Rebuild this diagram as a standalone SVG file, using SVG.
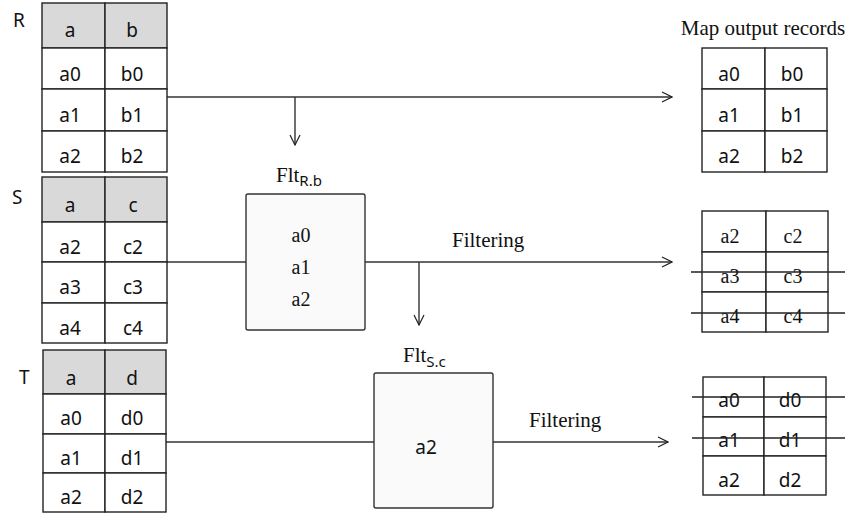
<svg xmlns="http://www.w3.org/2000/svg" width="848" height="513" viewBox="0 0 848 513">
<style>
.cell{fill:#fff;stroke:#222;stroke-width:1.4}
.hdr{fill:#d9d9d9;stroke:#222;stroke-width:1.4}
.box{fill:#fafafa;stroke:#333;stroke-width:1.4}
.ln{stroke:#333;stroke-width:1.4;fill:none}
.st{stroke:#222;stroke-width:1.3}
.s{font-family:"Noto Sans","DejaVu Sans",sans-serif;font-size:19px;fill:#111;text-anchor:middle}
.sr{font-family:"Liberation Serif","Times New Roman",serif;font-size:20px;fill:#111;text-anchor:middle}
.big{font-family:"Liberation Serif","Times New Roman",serif;font-size:21px;fill:#111}
.lbl{font-family:"Noto Sans","DejaVu Sans",sans-serif;font-size:19px;fill:#111}
.sub{font-family:"Noto Sans","DejaVu Sans",sans-serif;font-size:15px}
</style>
<defs>
<marker id="arr" viewBox="0 0 12 12" refX="11" refY="6" markerWidth="12" markerHeight="12" markerUnits="userSpaceOnUse" orient="auto">
<path d="M1,1 L11,6 L1,11" fill="none" stroke="#222" stroke-width="1.2"/>
</marker>
</defs>

<g id="connectors">
<line class="ln" x1="167" y1="97" x2="672" y2="97" marker-end="url(#arr)"/>
<line class="ln" x1="295" y1="97" x2="295" y2="145" marker-end="url(#arr)"/>
<line class="ln" x1="167" y1="262" x2="246" y2="262"/>
<line class="ln" x1="365" y1="262" x2="672" y2="262" marker-end="url(#arr)"/>
<line class="ln" x1="419" y1="262" x2="419" y2="325" marker-end="url(#arr)"/>
<line class="ln" x1="166" y1="442" x2="374" y2="442"/>
<line class="ln" x1="493" y1="442" x2="668" y2="442" marker-end="url(#arr)"/>
<text class="big" x="452" y="247">Filtering</text>
<text class="big" x="529" y="427">Filtering</text>
</g>

<g id="R">
<text class="lbl" x="13" y="27">R</text>
<rect class="hdr" x="42" y="3" width="63" height="45"/>
<rect class="hdr" x="105" y="3" width="62" height="45"/>
<rect class="cell" x="42" y="48" width="63" height="41"/><rect class="cell" x="105" y="48" width="62" height="41"/>
<rect class="cell" x="42" y="89" width="63" height="42"/><rect class="cell" x="105" y="89" width="62" height="42"/>
<rect class="cell" x="42" y="131" width="63" height="41"/><rect class="cell" x="105" y="131" width="62" height="41"/>
<text class="s" x="70" y="37">a</text><text class="s" x="132" y="37">b</text>
<text class="s" x="70" y="81">a0</text><text class="s" x="132" y="81">b0</text>
<text class="s" x="70" y="122">a1</text><text class="s" x="132" y="122">b1</text>
<text class="s" x="70" y="163">a2</text><text class="s" x="132" y="163">b2</text>
</g>

<g id="S">
<text class="lbl" x="12" y="204">S</text>
<rect class="hdr" x="42" y="177" width="63" height="45"/>
<rect class="hdr" x="105" y="177" width="62" height="45"/>
<rect class="cell" x="42" y="222" width="63" height="40"/><rect class="cell" x="105" y="222" width="62" height="40"/>
<rect class="cell" x="42" y="262" width="63" height="41"/><rect class="cell" x="105" y="262" width="62" height="41"/>
<rect class="cell" x="42" y="303" width="63" height="40"/><rect class="cell" x="105" y="303" width="62" height="40"/>
<text class="s" x="70" y="212">a</text><text class="s" x="133" y="212">c</text>
<text class="s" x="70" y="254">a2</text><text class="s" x="133" y="254">c2</text>
<text class="s" x="70" y="294">a3</text><text class="s" x="133" y="294">c3</text>
<text class="s" x="70" y="335">a4</text><text class="s" x="133" y="335">c4</text>
</g>

<g id="T">
<text class="lbl" x="19" y="384">T</text>
<rect class="hdr" x="43" y="350" width="62" height="44"/>
<rect class="hdr" x="105" y="350" width="61" height="44"/>
<rect class="cell" x="43" y="394" width="62" height="40"/><rect class="cell" x="105" y="394" width="61" height="40"/>
<rect class="cell" x="43" y="434" width="62" height="39"/><rect class="cell" x="105" y="434" width="61" height="39"/>
<rect class="cell" x="43" y="473" width="62" height="39"/><rect class="cell" x="105" y="473" width="61" height="39"/>
<text class="s" x="71" y="385">a</text><text class="s" x="132" y="385">d</text>
<text class="s" x="71" y="425">a0</text><text class="s" x="132" y="425">d0</text>
<text class="s" x="71" y="465">a1</text><text class="s" x="132" y="465">d1</text>
<text class="s" x="71" y="504">a2</text><text class="s" x="132" y="504">d2</text>
</g>

<g id="FltRb">
<text class="big" x="276" y="182">Flt<tspan class="sub" dy="4">R.b</tspan></text>
<rect class="box" x="246" y="194" width="119" height="136" rx="2"/>
<text class="sr" x="301" y="242">a0</text>
<text class="sr" x="301" y="274">a1</text>
<text class="sr" x="301" y="306">a2</text>
</g>

<g id="FltSc">
<text class="big" x="403" y="362">Flt<tspan class="sub" dy="5">S.c</tspan></text>
<rect class="box" x="374" y="373" width="119" height="135" rx="2"/>
<text class="s" x="426" y="454">a2</text>
</g>

<g id="Out1">
<text class="big" x="763" y="35" text-anchor="middle">Map output records</text>
<rect class="cell" x="702" y="48" width="63" height="41"/><rect class="cell" x="765" y="48" width="62" height="41"/>
<rect class="cell" x="702" y="89" width="63" height="42"/><rect class="cell" x="765" y="89" width="62" height="42"/>
<rect class="cell" x="702" y="131" width="63" height="41"/><rect class="cell" x="765" y="131" width="62" height="41"/>
<text class="s" x="729" y="81">a0</text><text class="s" x="792" y="81">b0</text>
<text class="s" x="729" y="122">a1</text><text class="s" x="792" y="122">b1</text>
<text class="s" x="729" y="163">a2</text><text class="s" x="792" y="163">b2</text>
</g>

<g id="Out2">
<rect class="cell" x="702" y="211" width="64" height="41"/><rect class="cell" x="766" y="211" width="62" height="41"/>
<rect class="cell" x="702" y="252" width="64" height="40"/><rect class="cell" x="766" y="252" width="62" height="40"/>
<rect class="cell" x="702" y="292" width="64" height="40"/><rect class="cell" x="766" y="292" width="62" height="40"/>
<text class="sr" x="730" y="243">a2</text><text class="sr" x="793" y="243">c2</text>
<text class="sr" x="730" y="283">a3</text><text class="sr" x="793" y="283">c3</text>
<text class="sr" x="730" y="323">a4</text><text class="sr" x="793" y="323">c4</text>
<line class="st" x1="691" y1="272" x2="845" y2="272"/>
<line class="st" x1="691" y1="313" x2="845" y2="313"/>
</g>

<g id="Out3">
<rect class="cell" x="703" y="377" width="61" height="40"/><rect class="cell" x="764" y="377" width="62" height="40"/>
<rect class="cell" x="703" y="417" width="61" height="39"/><rect class="cell" x="764" y="417" width="62" height="39"/>
<rect class="cell" x="703" y="456" width="61" height="39"/><rect class="cell" x="764" y="456" width="62" height="39"/>
<text class="s" x="729" y="407">a0</text><text class="s" x="790" y="407">d0</text>
<text class="s" x="729" y="447">a1</text><text class="s" x="790" y="447">d1</text>
<text class="s" x="729" y="487">a2</text><text class="s" x="790" y="487">d2</text>
<line class="st" x1="692" y1="397" x2="845" y2="397"/>
<line class="st" x1="692" y1="438" x2="845" y2="438"/>
</g>
</svg>
